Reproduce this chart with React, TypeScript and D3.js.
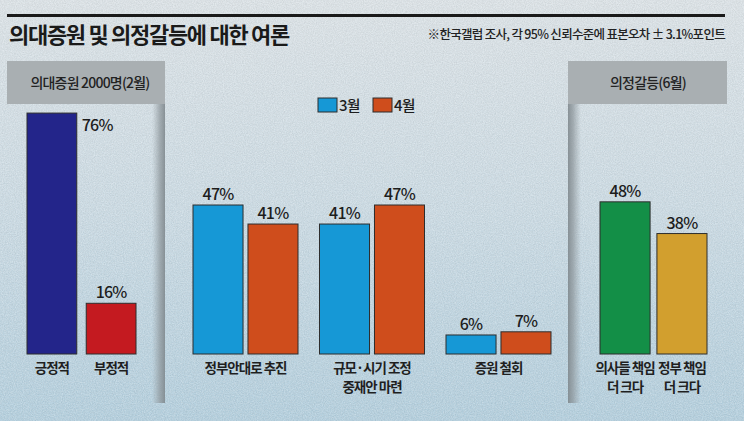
import React from "react";
import * as d3 from "d3";

const W = 744;
const H = 421;

const titleText = "의대증원 및 의정갈등에 대한 여론";
const noteText = "※한국갤럽 조사, 각 95% 신뢰수준에 표본오차 ± 3.1%포인트";

const leftHeader = "의대증원 2000명(2월)";
const leftCats = ["긍정적", "부정적"];
const leftValues = [76, 16];

const midSeries = ["3월", "4월"];
const midCats = [["정부안대로 추진"], ["규모·시기 조정", "중재안 마련"], ["증원 철회"]];
const midMarch = [47, 41, 6];
const midApril = [41, 47, 7];

const rightHeader = "의정갈등(6월)";
const rightCats = [["의사들 책임", "더 크다"], ["정부 책임", "더 크다"]];
const rightValues = [48, 38];

const FONT = "'Noto Sans CJK KR', 'Noto Sans', sans-serif";

export default function App() {
  const y = d3.scaleLinear().domain([0, 100]).range([354, 37]);
  const base = y(0);

  const xLeft = d3.scaleBand<string>().domain(leftCats).range([27, 136]).paddingInner(0.16);
  const midKeys = midCats.map((c) => c.join(" "));
  const xMid = d3.scaleBand<string>().domain(midKeys).range([193, 551]).paddingInner(0.17);
  const xMidInner = d3.scaleBand<string>().domain(midSeries).range([0, xMid.bandwidth()]).paddingInner(0.09);
  const rightKeys = rightCats.map((c) => c.join(" "));
  const xRight = d3.scaleBand<string>().domain(rightKeys).range([600, 707]).paddingInner(0.12);

  const leftColors = ["#23258a", "#c41a20"];
  const midColors = ["#1698d6", "#cf4d1c"];
  const rightColors = ["#138f47", "#d29f2e"];
  const stroke = "#2d2d2d";

  const pctStyle = { fontFamily: FONT, fontSize: 16, fontWeight: 500, fill: "#1d1d1d", letterSpacing: -0.8 } as const;
  const catStyle = { fontFamily: FONT, fontSize: 13.5, fontWeight: 700, fill: "#1f1f1f", letterSpacing: -1 } as const;

  return (
    <svg width={W} height={H} style={{ position: "fixed", left: 0, top: 0, display: "block" }}>
      <defs>
        <linearGradient id="bg" x1="0" y1="0" x2="0" y2="1">
          <stop offset="0" stopColor="#dce3e7" />
          <stop offset="0.5" stopColor="#cbdbe4" />
          <stop offset="1" stopColor="#b3cfde" />
        </linearGradient>
        <linearGradient id="shadowL" x1="0" y1="0" x2="1" y2="0">
          <stop offset="0" stopColor="#9aa3a8" stopOpacity="0" />
          <stop offset="0.6" stopColor="#8d969b" stopOpacity="0.7" />
          <stop offset="1" stopColor="#7f888d" stopOpacity="0.9" />
        </linearGradient>
        <linearGradient id="shadowR" x1="1" y1="0" x2="0" y2="0">
          <stop offset="0" stopColor="#9aa3a8" stopOpacity="0" />
          <stop offset="0.6" stopColor="#8d969b" stopOpacity="0.7" />
          <stop offset="1" stopColor="#7f888d" stopOpacity="0.9" />
        </linearGradient>
        <filter id="noise" x="0" y="0" width="100%" height="100%">
          <feTurbulence type="fractalNoise" baseFrequency="0.85" numOctaves="2" seed="3" result="t" />
          <feColorMatrix type="matrix" values="0 0 0 0 1  0 0 0 0 1  0 0 0 0 1  0 0 0 -1.4 1.0" />
        </filter>
        <filter id="noiseDark" x="0" y="0" width="100%" height="100%">
          <feTurbulence type="fractalNoise" baseFrequency="0.9" numOctaves="2" seed="7" result="t" />
          <feColorMatrix type="matrix" values="0 0 0 0 0  0 0 0 0 0  0 0 0 0 0  0 0 0 -1.4 1.0" />
        </filter>
      </defs>
      <rect x={0} y={0} width={W} height={H} fill="url(#bg)" />
      <rect x={0} y={0} width={W} height={H} filter="url(#noise)" opacity={0.35} />
      <rect x={0} y={0} width={W} height={H} filter="url(#noiseDark)" opacity={0.08} />

      {/* top rule */}
      <rect x={7} y={14} width={718} height={3} fill="#1a1a1a" />
      <text x={9} y={43} style={{ fontFamily: FONT, fontSize: 22, fontWeight: 700, fill: "#1a1a1a", letterSpacing: -1.3 }}>
        {titleText}
      </text>
      <text x={725} y={39} textAnchor="end" style={{ fontFamily: FONT, fontSize: 12.5, fontWeight: 500, fill: "#222", letterSpacing: -0.7 }}>
        {noteText}
      </text>

      {/* left panel */}
      <rect x={152} y={104} width={13} height={299} fill="url(#shadowL)" />
      <rect x={7} y={61} width={158} height={43} fill="#a9afb2" />
      <text x={90} y={88} textAnchor="middle" style={{ fontFamily: FONT, fontSize: 14, fontWeight: 500, fill: "#222", letterSpacing: -0.8 }}>
        {leftHeader}
      </text>

      {/* right panel */}
      <rect x={568} y={104} width={13} height={299} fill="url(#shadowR)" />
      <rect x={568} y={61} width={159} height={43} fill="#a9afb2" />
      <text x={648} y={88} textAnchor="middle" style={{ fontFamily: FONT, fontSize: 14, fontWeight: 500, fill: "#222", letterSpacing: -0.8 }}>
        {rightHeader}
      </text>

      {/* legend */}
      {midSeries.map((s, i) => (
        <g key={s}>
          <rect x={318 + i * 55} y={98} width={19} height={14} fill={midColors[i]} stroke={stroke} strokeWidth={1} />
          <text x={339 + i * 55} y={111} style={{ fontFamily: FONT, fontSize: 15, fontWeight: 500, fill: "#1d1d1d", letterSpacing: -0.8 }}>
            {s}
          </text>
        </g>
      ))}

      {/* left bars */}
      {leftCats.map((c, i) => {
        const x0 = xLeft(c)!;
        const bw = xLeft.bandwidth();
        return (
          <g key={c}>
            <rect x={x0} y={y(leftValues[i])} width={bw} height={base - y(leftValues[i])} fill={leftColors[i]} stroke={stroke} strokeWidth={1} />
            {i === 0 ? (
              <text x={x0 + bw + 5} y={y(leftValues[i]) + 18} style={pctStyle}>
                {leftValues[i]}%
              </text>
            ) : (
              <text x={x0 + bw / 2} y={y(leftValues[i]) - 5} textAnchor="middle" style={pctStyle}>
                {leftValues[i]}%
              </text>
            )}
            <text x={x0 + bw / 2} y={373} textAnchor="middle" style={catStyle}>
              {c}
            </text>
          </g>
        );
      })}

      {/* middle grouped bars */}
      {midKeys.map((k, gi) => {
        const g0 = xMid(k)!;
        const vals = [midMarch[gi], midApril[gi]];
        return (
          <g key={k}>
            {midSeries.map((s, si) => {
              const x0 = g0 + xMidInner(s)!;
              const bw = xMidInner.bandwidth();
              return (
                <g key={s}>
                  <rect x={x0} y={y(vals[si])} width={bw} height={base - y(vals[si])} fill={midColors[si]} stroke={stroke} strokeWidth={1} />
                  <text x={x0 + bw / 2} y={y(vals[si]) - 5} textAnchor="middle" style={pctStyle}>
                    {vals[si]}%
                  </text>
                </g>
              );
            })}
            {midCats[gi].map((line, li) => (
              <text key={li} x={g0 + xMid.bandwidth() / 2} y={373 + li * 19} textAnchor="middle" style={catStyle}>
                {line}
              </text>
            ))}
          </g>
        );
      })}

      {/* right bars */}
      {rightKeys.map((k, i) => {
        const x0 = xRight(k)!;
        const bw = xRight.bandwidth();
        return (
          <g key={k}>
            <rect x={x0} y={y(rightValues[i])} width={bw} height={base - y(rightValues[i])} fill={rightColors[i]} stroke={stroke} strokeWidth={1} />
            <text x={x0 + bw / 2} y={y(rightValues[i]) - 5} textAnchor="middle" style={pctStyle}>
              {rightValues[i]}%
            </text>
            {rightCats[i].map((line, li) => (
              <text key={li} x={x0 + bw / 2} y={373 + li * 19} textAnchor="middle" style={catStyle}>
                {line}
              </text>
            ))}
          </g>
        );
      })}
    </svg>
  );
}
